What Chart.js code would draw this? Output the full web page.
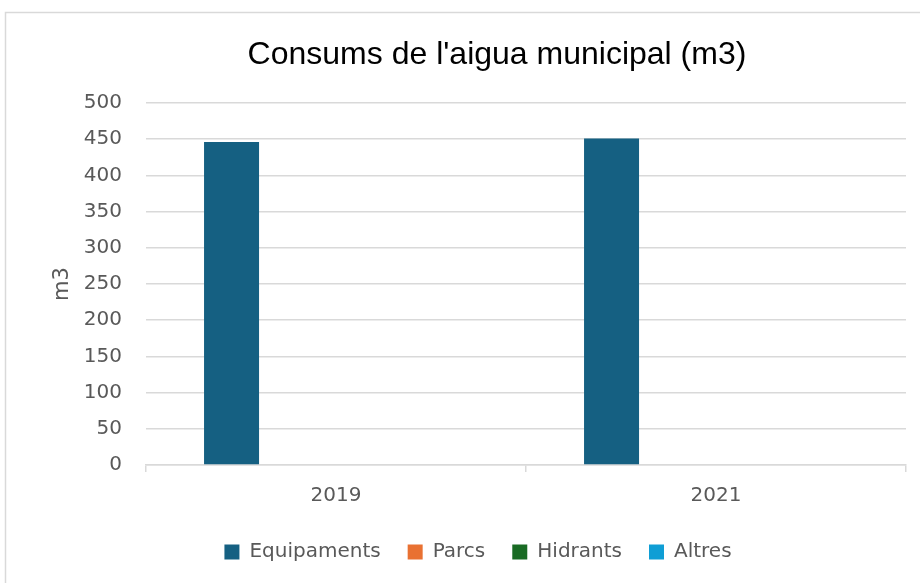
<!DOCTYPE html>
<html>
<head>
<meta charset="utf-8">
<script src="https://cdn.jsdelivr.net/npm/chart.js@4/dist/chart.umd.min.js"></script>
<style>
html,body{margin:0;padding:0;background:#fff;overflow:hidden;}
#wrap{width:920px;height:583px;position:relative;}
</style>
</head>
<body>
<div id="wrap"><canvas id="c" width="920" height="583"></canvas></div>
<script>
const categories = ["2019", "2021"];
const seriesNames = ["Equipaments", "Parcs", "Hidrants", "Altres"];
const equipaments = [446, 451];
const parcs = [0, 0];
const hidrants = [0, 0];
const altres = [0, 0];
const colors = ["#156082", "#E97132", "#196B24", "#0F9ED5"];
const yTicks = [0, 50, 100, 150, 200, 250, 300, 350, 400, 450, 500];

const FONT = "'DejaVu Sans', 'Open Sans', sans-serif";
const TFONT = "'Liberation Sans', Arial, sans-serif";

const framePlugin = {
  id: 'frame',
  beforeDraw(chart) {
    const ctx = chart.ctx;
    ctx.save();
    ctx.fillStyle = '#fff';
    ctx.fillRect(0, 0, chart.width, chart.height);
    ctx.strokeStyle = '#d9d9d9';
    ctx.lineWidth = 1.5;
    ctx.strokeRect(5.5, 12.5, 1200, 1200);
    ctx.restore();
  }
};
const shiftPlugin = {
  id: 'shift',
  afterLayout(chart) {
    const t = chart.titleBlock;
    if (t) { t.left += 24; t.right += 24; }
    const l = chart.legend;
    if (l) { l.left += 5; l.right += 5; }
  }
};

const seriesData = [equipaments, parcs, hidrants, altres];
new Chart(document.getElementById('c'), {
  type: 'bar',
  data: {
    labels: categories,
    datasets: seriesNames.map((n, i) => ({
      label: n,
      data: seriesData[i],
      backgroundColor: colors[i],
      borderWidth: 0,
      categoryPercentage: 0.733,
      barPercentage: 0.79
    }))
  },
  options: {
    responsive: false,
    animation: false,
    layout: { padding: { left: 40, right: 14, top: 0, bottom: 11 } },
    plugins: {
      title: {
        display: true,
        text: "Consums de l'aigua municipal (m3)",
        color: '#000',
        font: { family: TFONT, size: 32, weight: 'normal' },
        padding: { top: 36, bottom: 28.6 }
      },
      legend: {
        position: 'bottom',
        labels: {
          color: '#595959',
          font: { family: FONT, size: 20 },
          boxWidth: 15, boxHeight: 15,
          padding: 27
        }
      },
      tooltip: { enabled: false }
    },
    scales: {
      x: {
        grid: { offset: true, drawOnChartArea: false, drawTicks: true, tickLength: 7, color: '#d9d9d9', lineWidth: 1.5 },
        border: { color: '#d9d9d9', width: 1.5 },
        ticks: { color: '#595959', font: { family: FONT, size: 20 }, padding: 12 },
        afterFit(s) { s.height = 50; }
      },
      y: {
        min: 0, max: 500,
        afterBuildTicks(s) { s.ticks = yTicks.map(v => ({ value: v })); },
        grid: { color: '#d9d9d9', lineWidth: 1.5, drawTicks: false },
        border: { display: false },
        ticks: { color: '#595959', font: { family: FONT, size: 20 }, padding: 24 },
        title: { display: true, text: 'm3', color: '#595959', font: { family: FONT, size: 21 }, padding: { top: 10, bottom: 0 } },
        afterFit(s) { s.width = 106; }
      }
    }
  },
  plugins: [framePlugin, shiftPlugin]
});
</script>
</body>
</html>
